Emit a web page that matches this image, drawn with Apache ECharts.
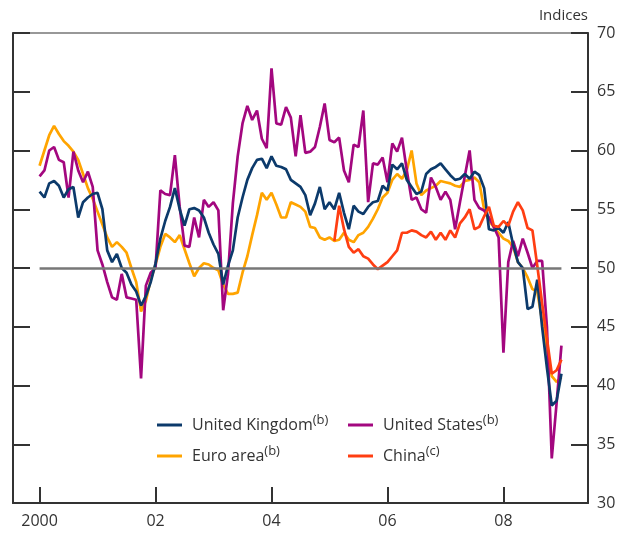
<!DOCTYPE html>
<html>
<head>
<meta charset="utf-8">
<script src="https://cdn.jsdelivr.net/npm/echarts@6/dist/echarts.min.js"></script>
<style>
  html, body { margin: 0; padding: 0; background: #fff; }
  #chart { width: 622px; height: 539px; }
</style>
</head>
<body>
<div id="chart"></div>
<script>
// monthly axis, Aug 1999 .. Jun 2009
const months = [];
for (let y = 1999, m = 8; !(y === 2009 && m === 7); ) {
  months.push(y + '-' + String(m).padStart(2, '0'));
  m++;
  if (m > 12) { m = 1; y++; }
}
const tickYears = ['2000', '2002', '2004', '2006', '2008'];
const tickLabels = ['2000', '02', '04', '06', '08'];

// series from Jan 2000 to Jan 2009
const ukStart = '2000-01';
const ukValues = [
  56.5, 56.0, 57.2, 57.4, 57.0, 56.0, 56.7, 56.9, 54.3, 55.6, 56.0, 56.3,
  56.4, 55.0, 51.5, 50.5, 51.2, 50.0, 49.6, 48.6, 48.0, 46.8, 47.6, 48.8,
  50.4, 52.5, 54.0, 55.2, 56.8, 55.0, 53.6, 55.0, 55.1, 54.9, 54.3, 53.0,
  52.0, 51.2, 48.6, 50.2, 51.5, 54.3, 56.0, 57.5, 58.5, 59.2, 59.3, 58.5,
  59.5, 58.7, 58.6, 58.4, 57.5, 57.2, 56.9, 56.2, 54.5, 55.5, 56.9, 55.0,
  55.6, 55.0, 56.4, 54.7, 53.3, 55.3, 54.8, 54.6, 55.2, 55.6, 55.7, 57.0,
  56.6, 58.8, 58.4, 58.9, 57.5, 56.9, 56.3, 56.5, 58.0, 58.4, 58.6, 58.9,
  58.4, 57.9, 57.5, 57.6, 58.0, 57.6, 58.2, 57.9, 56.8, 53.3, 53.2, 53.4,
  53.0, 53.9, 52.0, 50.5, 50.0, 46.5, 46.7, 49.0, 45.0, 41.5, 38.3, 38.7, 41.0
];
const euroStart = '2000-01';
const euroValues = [
  58.7, 60.0, 61.3, 62.1, 61.4, 60.8, 60.4, 59.9, 59.2, 58.0, 56.8, 55.9,
  54.8, 53.7, 52.6, 51.8, 52.2, 51.8, 51.3, 50.0, 48.8, 46.3, 47.2, 49.0,
  50.3, 51.8, 52.9, 52.6, 52.2, 52.8, 51.6, 50.4, 49.3, 50.0, 50.4, 50.3,
  50.0, 49.8, 48.6, 47.8, 47.8, 47.9, 49.6, 51.0, 52.8, 54.5, 56.4, 55.8,
  56.4, 55.4, 54.3, 54.3, 55.6, 55.4, 55.2, 54.8, 53.5, 53.4, 52.6, 52.4,
  52.6, 52.3, 52.4, 53.0, 52.4, 52.2, 52.8, 53.0, 53.5, 54.2, 55.0, 56.0,
  56.4, 57.5, 58.0, 57.6, 58.3, 60.0, 57.2, 56.2, 56.6, 56.8, 57.0, 57.4,
  57.3, 57.2, 57.0, 56.9, 57.4, 57.5, 57.7, 57.3, 55.0, 54.0, 53.5, 53.0,
  52.5, 52.3, 51.8, 50.5, 50.0, 49.2, 48.2, 48.0, 45.5, 43.0, 40.8, 40.3, 40.7
];
const usStart = '2000-01';
const usValues = [
  57.8, 58.3, 60.0, 60.3, 59.2, 59.0, 56.0, 59.9, 58.3, 57.3, 58.2, 56.9,
  51.5, 50.3, 48.8, 47.5, 47.3, 49.5, 47.5, 47.4, 47.3, 40.6, 48.5, 49.6,
  50.0, 56.6, 56.3, 56.2, 59.6, 55.2, 51.9, 51.8, 54.3, 52.6, 55.8, 55.2,
  55.6, 54.9, 46.4, 49.5, 55.5, 59.5, 62.3, 63.8, 62.6, 63.4, 61.0, 60.2,
  67.0, 62.3, 62.2, 63.7, 62.8, 59.5, 63.0, 59.8, 59.9, 60.3, 62.0, 64.0,
  60.9, 60.7, 61.1, 58.3, 57.3, 60.5, 60.3, 63.4, 55.6, 58.9, 58.8, 59.4,
  57.3, 60.6, 59.9, 61.1, 58.3, 55.8, 56.0, 55.0, 54.7, 57.7, 56.9, 55.8,
  56.5, 55.8, 53.3, 55.6, 57.8, 60.0, 55.8, 55.1, 54.9, 54.3, 53.5, 52.6,
  42.8, 50.5, 52.3, 51.0, 52.5, 51.3, 50.0, 50.6, 50.6, 45.0, 33.8, 38.5, 43.4
];
const chinaStart = '2005-02';
const chinaValues = [
  52.3, 55.3, 53.3, 51.8, 51.3, 51.6, 51.0, 50.8, 50.3, 49.9, 50.2,
  50.5, 51.0, 51.5, 53.0, 53.0, 53.2, 53.1, 52.8, 52.6, 53.1, 52.4, 53.0,
  52.4, 53.2, 52.6, 53.8, 54.3, 55.0, 53.3, 53.5, 54.4, 55.2, 53.6, 53.5,
  54.0, 53.6, 54.8, 55.6, 54.9, 53.4, 53.2, 50.2, 47.0, 44.0, 41.0, 41.3, 42.2
];
const refLevel = 50;
const refFrom = '2000-01';
const refTo = '2009-01';

const notes = { 'United Kingdom': 'b', 'Euro area': 'b', 'United States': 'b', 'China': 'c' };

function align(start, values) {
  const i0 = months.indexOf(start);
  return months.map((_, i) => (i >= i0 && i - i0 < values.length) ? values[i - i0] : null);
}

// tick / label only on January of the even years
function isTick(index) {
  const v = months[index];
  return !!v && v.slice(5) === '01' && tickYears.indexOf(v.slice(0, 4)) >= 0;
}

const font = 'Open Sans';
const textCol = '#333';

const chart = echarts.init(document.getElementById('chart'));

const legendCommon = {
  orient: 'vertical',
  icon: 'rect',
  itemWidth: 25,
  itemHeight: 3,
  itemGap: 12,
  textStyle: {
    fontFamily: font, fontSize: 16, color: textCol, padding: [0, 0, 0, 5],
    rich: {
      sup: { fontFamily: font, fontSize: 13, color: textCol, verticalAlign: 'top', padding: [0, 0, 9, 0] }
    }
  },
  formatter: name => name + '{sup|(' + notes[name] + ')}'
};

const lineSeries = (name, color, start, values) => ({
  name: name,
  type: 'line',
  yAxisIndex: 1,
  data: align(start, values),
  symbol: 'none',
  connectNulls: false,
  lineStyle: { color: color, width: 2.7 },
  itemStyle: { color: color }
});

const option = {
  animation: false,
  textStyle: { fontFamily: font },
  grid: { left: 13, right: 34, top: 33, bottom: 36, show: true, borderColor: '#333', borderWidth: 1.2 },
  legend: [
    Object.assign({}, legendCommon, { left: 152, top: 409, data: ['United Kingdom', 'Euro area'] }),
    Object.assign({}, legendCommon, { left: 343, top: 409, data: ['United States', 'China'] })
  ],
  xAxis: {
    type: 'category',
    data: months,
    boundaryGap: true,
    axisLine: { lineStyle: { color: '#333', width: 2 } },
    axisTick: { show: true, inside: true, length: 16, alignWithLabel: true, interval: isTick, lineStyle: { color: '#333', width: 2 } },
    axisLabel: {
      interval: isTick, margin: 10, fontFamily: font, fontSize: 16, color: textCol,
      formatter: v => tickLabels[tickYears.indexOf(v.slice(0, 4))]
    },
    splitLine: { show: false }
  },
  yAxis: [
    {
      type: 'value', position: 'left', min: 30, max: 70, interval: 5,
      axisLine: { show: true, lineStyle: { color: '#333', width: 2 } },
      axisTick: { show: true, inside: true, length: 17, lineStyle: { color: '#333', width: 2 } },
      axisLabel: { show: false },
      splitLine: { show: false }
    },
    {
      type: 'value', position: 'right', min: 30, max: 70, interval: 5,
      name: 'Indices', nameLocation: 'end', nameGap: 10,
      nameTextStyle: { fontFamily: font, fontSize: 15, color: textCol, align: 'right' },
      axisLine: { show: true, lineStyle: { color: '#333', width: 2 } },
      axisTick: { show: true, inside: true, length: 17, lineStyle: { color: '#333', width: 2 } },
      axisLabel: { margin: 9, fontFamily: font, fontSize: 16, color: textCol },
      splitLine: { show: false }
    }
  ],
  series: [
    Object.assign(lineSeries('Euro area', '#ffa400', euroStart, euroValues), {
      markLine: {
        silent: true, symbol: 'none', label: { show: false },
        lineStyle: { color: '#777', width: 2.5, type: 'solid' },
        data: [[{ coord: [refFrom, refLevel] }, { coord: [refTo, refLevel] }]]
      }
    }),
    lineSeries('United States', '#a3077f', usStart, usValues),
    lineSeries('United Kingdom', '#0c3a6b', ukStart, ukValues),
    lineSeries('China', '#ff3e12', chinaStart, chinaValues)
  ]
};

chart.setOption(option);
</script>
</body>
</html>
